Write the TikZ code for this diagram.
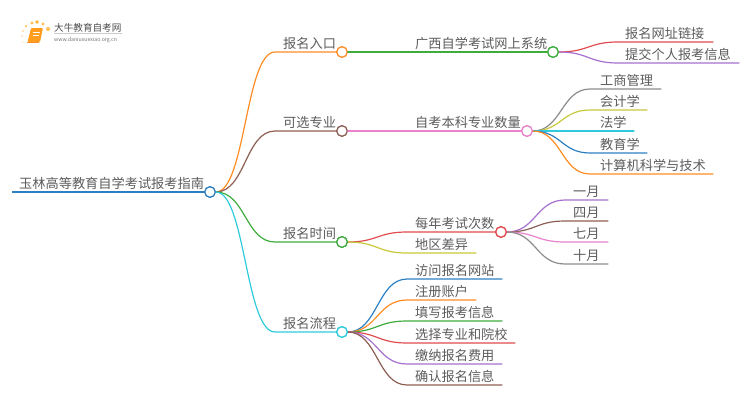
\documentclass[tikz,border=0pt]{standalone}
\usepackage{fontspec}
\setmainfont{Noto Sans CJK SC}
\usetikzlibrary{calc}
\definecolor{cOrange}{HTML}{FF8C24}
\definecolor{cBrown}{HTML}{8D5F54}
\definecolor{cGreen}{HTML}{3DAB3D}
\definecolor{cCyan}{HTML}{2FCBDC}
\definecolor{cBlue}{HTML}{2C80C2}
\definecolor{cPink}{HTML}{E883CC}
\definecolor{cRed}{HTML}{E04C50}
\definecolor{cPurple}{HTML}{A570CF}
\definecolor{cOlive}{HTML}{C8C83A}
\definecolor{cGray}{HTML}{8C8C8C}
\definecolor{cText}{HTML}{5C5C5C}
\tikzset{
  lbl/.style={anchor=base west,inner sep=0pt,text=cText,font=\fontsize{13.2}{13}\selectfont},
  hub/.style={circle,draw=#1,fill=white,line width=1.2pt,minimum size=10.5pt,inner sep=0pt},
  wire/.style={draw=#1,line width=1.2pt,line cap=round},
}
% \twig{from}{name}{bend x}{end x}{y}{text x}{colour}{text}
\newcommand{\twig}[8]{%
  \coordinate (#2b) at (#3,#5);
  \coordinate (#2e) at (#4,#5);
  \node[lbl] (#2) at (#6,#5-4) {#8};
  \draw[wire=#7] (#1.east) .. controls ($(#1.east)!.5!(#2b|-#1.east)$) and ($(#2b)!.5!(#1.east|-#2b)$) .. (#2b) -- (#2e);
}
\begin{document}
\begin{tikzpicture}[x=1pt,y=-1pt]
\useasboundingbox (0,0) rectangle (750,410);
% logo
\foreach \px/\py/\pr/\po in {23/42/1/.2,22/36/1.1/.3,23/31/1.2/.4,26/26/1.4/.55,32/23/1.7/.7,37/22/1.8/.8,43/24/1.6/.7,48/29/2.1/.65}
  \fill[orange!75!yellow,opacity=\po] (\px,\py) circle (\pr);
\fill[cOrange!85!yellow,rounded corners=1pt] (31,28) -- (43,28) -- (40,42) -- (27.5,42) -- cycle;
\draw[white,line width=.6pt] (33,32) -- (40,32) (32.5,35) -- (39,35);
\draw[cOrange,line width=.8pt] (27,42.6) -- (39,42.6);
\node[inner sep=0pt,anchor=base west,text=black!70,font=\fontsize{9.6}{10}\selectfont] (logoa) at (54,31) {大牛教育自考网};
\draw[black!20,line width=.5pt] (54,33.5) -- (122,33.5);
\node[inner sep=0pt,anchor=base west,text=black!55,font=\fontsize{5.2}{5}\selectfont] (logob) at (54,41) {www.daniuxuexiao.org.cn};
% root
\node[lbl] (rootlabel) at (19,188) {玉林高等教育自学考试报考指南};
\node[hub=cBlue] (root) at (210,192) {};
\coordinate (rootstart) at (12,192);
\draw[wire=cBlue,line cap=butt] (rootstart) -- (root);
% level 1
\foreach \nm/\yy/\cc/\tt in {a/52/cOrange/报名入口,b/131/cBrown/可选专业,c/242/cGreen/报名时间,d/332/cCyan/报名流程}{
  \node[hub=\cc] (\nm) at (342,\yy) {};
  \twig{root}{\nm t}{275}{337}{\yy}{283}{\cc}{\tt}
  \node[hub=\cc] at (\nm) {};
}
\node[hub=cBlue] at (root) {};
% level 2
\node[hub=cGreen] (aa) at (553,52) {};
\twig{a}{aat}{415}{548}{52}{415}{cGreen}{广西自学考试网上系统}
\node[hub=cGreen] at (aa) {};
\node[hub=cPink] (ba) at (527,131) {};
\twig{b}{bat}{415}{522}{131}{415}{cPink}{自考本科专业数量}
\node[hub=cPink] at (ba) {};
\node[hub=cRed] (ca) at (501,232) {};
\twig{c}{cat}{407}{496}{232}{415}{cRed}{每年考试次数}
\node[hub=cRed] at (ca) {};
\twig{c}{cbt}{407}{476}{253}{415}{cOlive}{地区差异}
\node[hub=cGreen] at (c) {};
% children of aa
\twig{aa}{l1}{618}{713}{42}{625}{cRed}{报名网址链接}
\twig{aa}{l2}{618}{739}{63}{625}{cPurple}{提交个人报考信息}
\node[hub=cGreen] at (aa) {};
% children of ba
\twig{ba}{m1}{590}{661}{89}{600}{cGray}{工商管理}
\twig{ba}{m2}{590}{647}{110}{600}{cOlive}{会计学}
\twig{ba}{m3}{590}{634}{131}{600}{cCyan}{法学}
\twig{ba}{m4}{590}{647}{153}{600}{cBlue}{教育学}
\twig{ba}{m5}{590}{713}{174}{600}{cOrange}{计算机科学与技术}
\node[hub=cPink] at (ba) {};
% months
\twig{ca}{n1}{565}{608}{200}{573}{cPurple}{一月}
\twig{ca}{n2}{565}{608}{221}{573}{cBrown}{四月}
\twig{ca}{n3}{565}{608}{242}{573}{cPink}{七月}
\twig{ca}{n4}{565}{608}{264}{573}{cGray}{十月}
\node[hub=cRed] at (ca) {};
% process
\twig{d}{p1}{407}{502}{279}{415}{cBlue}{访问报名网站}
\twig{d}{p2}{407}{476}{300}{415}{cOrange}{注册账户}
\twig{d}{p3}{407}{502}{321}{415}{cGreen}{填写报考信息}
\twig{d}{p4}{407}{515}{343}{415}{cRed}{选择专业和院校}
\twig{d}{p5}{407}{502}{364}{415}{cPurple}{缴纳报名费用}
\twig{d}{p6}{407}{502}{385}{415}{cBrown}{确认报名信息}
\node[hub=cCyan] at (d) {};
\end{tikzpicture}
\end{document}
